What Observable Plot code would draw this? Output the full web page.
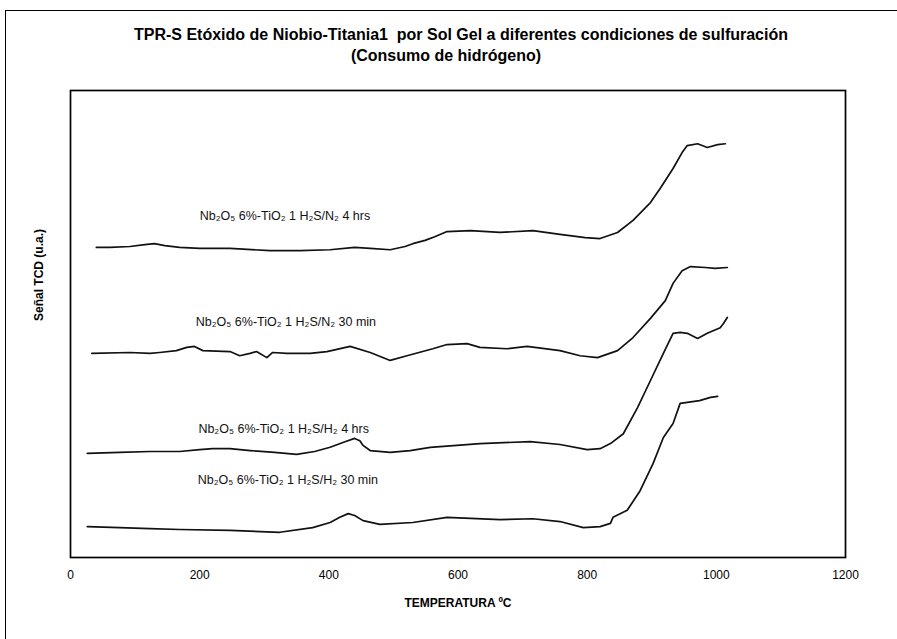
<!DOCTYPE html>
<html>
<head>
<meta charset="utf-8">
<script src="https://cdn.jsdelivr.net/npm/d3@7"></script>
<script src="https://cdn.jsdelivr.net/npm/@observablehq/plot@0.6"></script>
<style>
  html, body { margin: 0; padding: 0; background: #fff; }
  #page {
    position: relative; width: 897px; height: 639px; overflow: hidden;
    font-family: "Liberation Sans", Arial, sans-serif; color: #000;
  }
  #sheet {
    position: absolute; left: 5px; top: 10px; width: 1000px; height: 1000px;
    border-left: 1.5px solid #000; border-top: 1.5px solid #000;
  }
  #chart { position: absolute; left: 0; top: 0; }
</style>
</head>
<body>
<div id="page">
  <div id="sheet"></div>
  <div id="chart"></div>
</div>
<script>
// TPR-S hydrogen consumption traces (TCD signal, arbitrary units)
const tempN2_4h = [40, 61, 92, 115, 130, 146, 169, 200, 247, 309, 355, 402, 440, 464, 495, 518, 530, 549, 564, 583, 619, 665, 716, 758, 797, 820, 847, 871, 898, 913, 933, 947, 955, 971, 986, 1002, 1014];
const sigN2_4h  = [66.4, 66.4, 66.6, 67.0, 67.2, 66.8, 66.4, 66.2, 66.2, 65.7, 65.7, 65.9, 66.4, 66.2, 65.9, 66.6, 67.2, 67.9, 68.7, 69.8, 70.0, 69.6, 70.0, 69.2, 68.5, 68.3, 69.6, 72.2, 76.0, 79.0, 83.3, 86.7, 88.2, 88.6, 87.8, 88.4, 88.6];

const tempN2_30m = [33, 92, 123, 138, 164, 180, 192, 205, 247, 262, 278, 288, 304, 313, 335, 371, 397, 433, 464, 495, 521, 561, 583, 614, 634, 676, 707, 758, 789, 816, 847, 871, 898, 921, 933, 947, 960, 983, 998, 1017];
const sigN2_30m  = [43.7, 43.9, 43.7, 43.9, 44.3, 45.0, 45.2, 44.3, 44.1, 43.2, 43.7, 44.1, 42.8, 43.9, 43.7, 43.7, 44.1, 45.2, 43.9, 42.2, 43.2, 44.7, 45.6, 45.8, 45.0, 44.7, 45.2, 44.3, 43.2, 42.8, 44.3, 47.1, 51.2, 55.0, 58.7, 61.4, 62.3, 62.1, 61.9, 62.1];

const tempH2_4h = [26, 76, 123, 169, 200, 220, 247, 278, 316, 350, 378, 402, 425, 440, 448, 453, 464, 495, 526, 557, 634, 712, 758, 800, 820, 836, 856, 878, 898, 918, 933, 944, 955, 971, 986, 1006, 1011, 1017];
const sigH2_4h  = [22.3, 22.5, 22.7, 22.7, 23.1, 23.3, 23.3, 22.9, 22.5, 22.1, 22.7, 23.6, 24.8, 25.5, 25.0, 24.0, 22.9, 22.5, 22.9, 23.6, 24.4, 24.8, 24.2, 23.1, 23.3, 24.4, 26.5, 32.1, 37.9, 43.7, 48.0, 48.2, 48.0, 46.9, 48.0, 49.2, 50.1, 51.4];

const tempH2_30m = [26, 76, 123, 169, 247, 324, 375, 402, 417, 430, 440, 453, 479, 530, 583, 665, 716, 758, 794, 820, 836, 840, 862, 882, 902, 918, 933, 944, 955, 974, 991, 1002];
const sigH2_30m  = [6.6, 6.4, 6.2, 6.0, 5.8, 5.4, 6.4, 7.5, 8.6, 9.4, 9.0, 7.9, 7.1, 7.5, 8.6, 8.1, 8.3, 7.7, 6.4, 6.6, 7.3, 8.6, 10.1, 14.3, 20.1, 25.7, 28.7, 33.0, 33.2, 33.6, 34.3, 34.5];

const xTicks = [0, 200, 400, 600, 800, 1000, 1200];

const seriesNames = [
  "Nb₂O₅ 6%-TiO₂ 1 H₂S/N₂ 4 hrs",
  "Nb₂O₅ 6%-TiO₂ 1 H₂S/N₂ 30 min",
  "Nb₂O₅ 6%-TiO₂ 1 H₂S/H₂ 4 hrs",
  "Nb₂O₅ 6%-TiO₂ 1 H₂S/H₂ 30 min"
];
// where each trace's caption starts, in data units (temperature, signal)
const labelTemp = [200, 194, 198, 197];
const labelSig  = [73.2, 50.5, 27.6, 16.7];

const traces = [
  [tempN2_4h, sigN2_4h],
  [tempN2_30m, sigN2_30m],
  [tempH2_4h, sigH2_4h],
  [tempH2_30m, sigH2_30m]
];
const rows = traces.flatMap(([t, s], i) =>
  t.map((T, j) => ({serie: seriesNames[i], T, S: s[j]})));
const labels = seriesNames.map((name, i) => ({name, T: labelTemp[i], S: labelSig[i]}));

const font = '"Liberation Sans", Arial, sans-serif';

const chart = Plot.plot({
  width: 897,
  height: 639,
  marginLeft: 70,
  marginRight: 52,
  marginTop: 90,
  marginBottom: 82,
  style: {fontFamily: font, background: "transparent", overflow: "visible"},
  x: {domain: [0, 1200]},
  y: {domain: [0, 100], axis: null},
  marks: [
    Plot.line(rows, {x: "T", y: "S", z: "serie", stroke: "#111", strokeWidth: 1.7, strokeLinejoin: "round"}),
    Plot.text(labels, {x: "T", y: "S", text: "name", textAnchor: "start", fontSize: 12.5, fill: "#111"}),
    Plot.axisX({ticks: xTicks, tickSize: 0, tickPadding: 13, fontSize: 12, label: null, tickFormat: d => String(d)}),
    Plot.text(["TEMPERATURA ºC"], {frameAnchor: "bottom", dy: 49, fontSize: 12, fontWeight: "bold"}),
    Plot.text(["Señal TCD (u.a.)"], {frameAnchor: "left", rotate: -90, dx: -31, dy: -3, fontSize: 12, fontWeight: "bold"}),
    Plot.text(["TPR-S Etóxido de Niobio-Titania1  por Sol Gel a diferentes condiciones de sulfuración"], {frameAnchor: "top", dy: -62, fontSize: 16, fontWeight: "bold", dx: 3}),
    Plot.text(["(Consumo de hidrógeno)"], {frameAnchor: "top", dy: -41, fontSize: 16, fontWeight: "bold", dx: -12}),
    Plot.frame({stroke: "#000", strokeWidth: 1.7})
  ]
});
document.getElementById("chart").appendChild(chart);
</script>
</body>
</html>
